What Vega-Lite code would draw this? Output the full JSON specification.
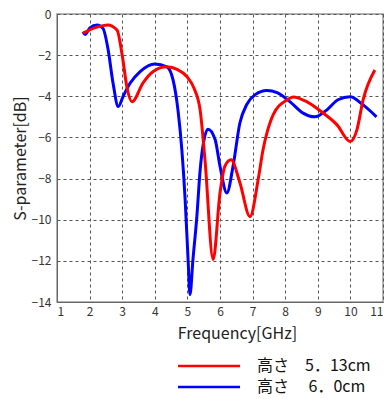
{
  "$schema": "https://vega.github.io/schema/vega-lite/v6.json",
  "width": 326,
  "height": 288,
  "autosize": {"type": "none"},
  "padding": {"left": 57, "top": 14, "right": 7, "bottom": 97},
  "background": "white",
  "config": {
    "view": {"stroke": "#999999", "strokeWidth": 1.5},
    "font": "DejaVu Sans"
  },
  "data": {
    "values": [
      {"f": 1.8, "s": -0.87, "c": "b"},
      {"f": 1.86, "s": -1.0, "c": "b"},
      {"f": 2.01, "s": -0.68, "c": "b"},
      {"f": 2.23, "s": -0.53, "c": "b"},
      {"f": 2.41, "s": -0.7, "c": "b"},
      {"f": 2.57, "s": -1.75, "c": "b"},
      {"f": 2.72, "s": -3.37, "c": "b"},
      {"f": 2.88, "s": -4.5, "c": "b"},
      {"f": 3.03, "s": -4.0, "c": "b"},
      {"f": 3.24, "s": -3.37, "c": "b"},
      {"f": 3.55, "s": -2.8, "c": "b"},
      {"f": 4.0, "s": -2.43, "c": "b"},
      {"f": 4.37, "s": -2.57, "c": "b"},
      {"f": 4.56, "s": -3.2, "c": "b"},
      {"f": 4.71, "s": -4.66, "c": "b"},
      {"f": 4.83, "s": -6.6, "c": "b"},
      {"f": 4.93, "s": -9.0, "c": "b"},
      {"f": 5.02, "s": -11.9, "c": "b"},
      {"f": 5.08, "s": -13.64, "c": "b"},
      {"f": 5.17, "s": -11.94, "c": "b"},
      {"f": 5.29, "s": -9.85, "c": "b"},
      {"f": 5.39, "s": -7.6, "c": "b"},
      {"f": 5.5, "s": -6.2, "c": "b"},
      {"f": 5.63, "s": -5.6, "c": "b"},
      {"f": 5.85, "s": -6.1, "c": "b"},
      {"f": 6.0, "s": -7.4, "c": "b"},
      {"f": 6.21, "s": -8.7, "c": "b"},
      {"f": 6.4, "s": -7.4, "c": "b"},
      {"f": 6.61, "s": -5.3, "c": "b"},
      {"f": 6.82, "s": -4.4, "c": "b"},
      {"f": 7.07, "s": -3.93, "c": "b"},
      {"f": 7.44, "s": -3.72, "c": "b"},
      {"f": 7.75, "s": -3.82, "c": "b"},
      {"f": 8.15, "s": -4.27, "c": "b"},
      {"f": 8.55, "s": -4.82, "c": "b"},
      {"f": 8.91, "s": -5.0, "c": "b"},
      {"f": 9.28, "s": -4.66, "c": "b"},
      {"f": 9.62, "s": -4.17, "c": "b"},
      {"f": 9.99, "s": -4.02, "c": "b"},
      {"f": 10.39, "s": -4.42, "c": "b"},
      {"f": 10.8, "s": -5.0, "c": "b"},
      {"f": 1.8, "s": -0.93, "c": "r"},
      {"f": 2.2, "s": -0.65, "c": "r"},
      {"f": 2.56, "s": -0.53, "c": "r"},
      {"f": 2.84, "s": -0.78, "c": "r"},
      {"f": 3.0, "s": -2.0, "c": "r"},
      {"f": 3.15, "s": -3.6, "c": "r"},
      {"f": 3.3, "s": -4.27, "c": "r"},
      {"f": 3.64, "s": -3.35, "c": "r"},
      {"f": 3.95, "s": -2.8, "c": "r"},
      {"f": 4.37, "s": -2.57, "c": "r"},
      {"f": 4.7, "s": -2.7, "c": "r"},
      {"f": 4.99, "s": -3.05, "c": "r"},
      {"f": 5.2, "s": -3.6, "c": "r"},
      {"f": 5.39, "s": -4.66, "c": "r"},
      {"f": 5.54, "s": -7.1, "c": "r"},
      {"f": 5.79, "s": -11.94, "c": "r"},
      {"f": 6.0, "s": -8.7, "c": "r"},
      {"f": 6.15, "s": -7.4, "c": "r"},
      {"f": 6.34, "s": -7.09, "c": "r"},
      {"f": 6.61, "s": -8.2, "c": "r"},
      {"f": 6.92, "s": -9.85, "c": "r"},
      {"f": 7.17, "s": -8.06, "c": "r"},
      {"f": 7.32, "s": -6.6, "c": "r"},
      {"f": 7.44, "s": -5.78, "c": "r"},
      {"f": 7.63, "s": -4.9, "c": "r"},
      {"f": 8.06, "s": -4.17, "c": "r"},
      {"f": 8.24, "s": -4.03, "c": "r"},
      {"f": 8.67, "s": -4.27, "c": "r"},
      {"f": 9.16, "s": -4.81, "c": "r"},
      {"f": 9.59, "s": -5.39, "c": "r"},
      {"f": 9.99, "s": -6.2, "c": "r"},
      {"f": 10.2, "s": -5.63, "c": "r"},
      {"f": 10.39, "s": -4.17, "c": "r"},
      {"f": 10.75, "s": -2.72, "c": "r"}
    ]
  },
  "transform": [
    {"calculate": "datum.c == 'r' ? '高さ　5．13cm' : '高さ　 6．0cm'", "as": "series"}
  ],
  "mark": {"type": "line", "interpolate": "monotone", "strokeWidth": 3},
  "encoding": {
    "x": {
      "field": "f", "type": "quantitative",
      "scale": {"domain": [1, 11], "nice": false},
      "axis": {
        "title": "Frequency[GHz]", "values": [1,2,3,4,5,6,7,8,9,10,11],
        "grid": true, "gridDash": [3, 3], "gridColor": "#555555", "gridOpacity": 1,
        "domainColor": "#666666", "ticks": false,
        "labelFont": "Noto Sans CJK JP", "labelFontSize": 12, "labelColor": "#333333",
        "titleFont": "Noto Sans CJK JP", "titleFontSize": 16, "titleFontWeight": "normal", "titleColor": "#222222",
        "titleX": 180, "titleY": 31, "titleAlign": "center", "titleBaseline": "middle", "labelPadding": 4
      }
    },
    "y": {
      "field": "s", "type": "quantitative",
      "scale": {"domain": [-14, 0], "nice": false},
      "axis": {
        "title": "S-parameter[dB]", "values": [0,-2,-4,-6,-8,-10,-12,-14],
        "grid": true, "gridDash": [3, 3], "gridColor": "#555555", "gridOpacity": 1,
        "domainColor": "#666666", "ticks": false,
        "labelFont": "Noto Sans CJK JP", "labelFontSize": 12, "labelColor": "#333333",
        "titleFont": "Noto Sans CJK JP", "titleFontSize": 16, "titleFontWeight": "normal", "titleColor": "#222222",
        "titleX": -37, "titleY": 144, "titleAlign": "center", "titleBaseline": "middle", "titleAngle": -90, "labelPadding": 6
      }
    },
    "color": {
      "field": "series", "type": "nominal",
      "scale": {"domain": ["高さ　5．13cm", "高さ　 6．0cm"], "range": ["#ff0000", "#0000ff"]},
      "legend": {
        "title": null, "orient": "none", "legendX": 143, "legendY": 343,
        "symbolType": "M-4,0H4", "symbolSize": 240, "symbolStrokeWidth": 2.5,
        "labelFont": "Noto Sans CJK JP", "labelFontSize": 16, "labelColor": "#111111",
        "labelLimit": 300, "rowPadding": 4, "labelOffset": 39
      }
    }
  }
}
